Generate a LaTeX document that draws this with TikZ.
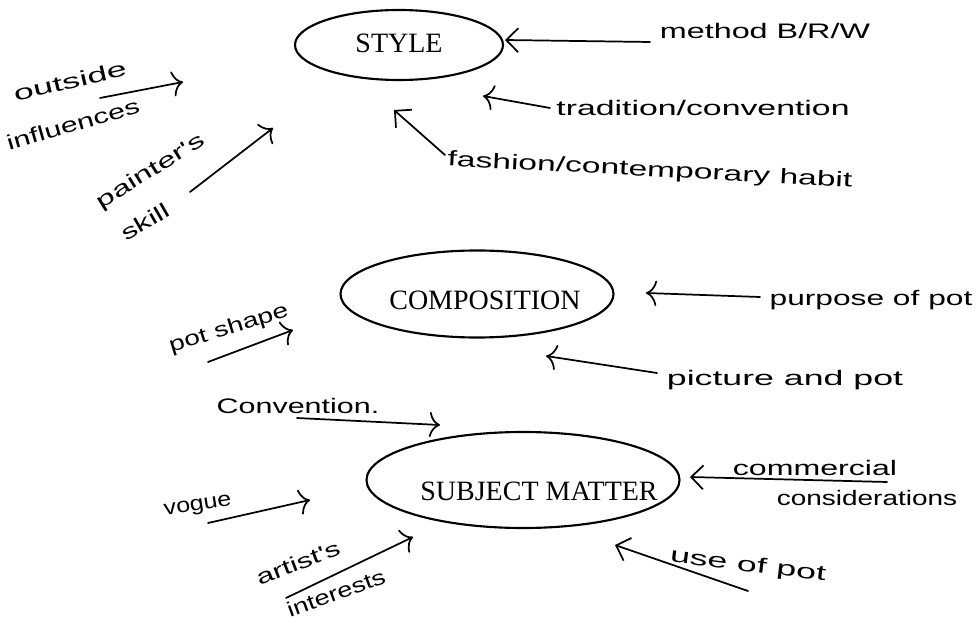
\documentclass[tikz,border=0pt]{standalone}
\usepackage{fontspec}
\usepackage{graphicx}
\setmainfont{Liberation Serif}
\newfontfamily\handfont{Liberation Sans}
\usetikzlibrary{arrows.meta,shapes.geometric}
\begin{document}
\begin{tikzpicture}[x=0.75pt,y=-0.75pt,
  bubble/.style={draw, ellipse, line width=1.6pt, inner sep=0pt},
  caption/.style={font=\fontsize{21}{24}\selectfont, inner sep=0pt},
  hand/.style={font=\handfont\fontsize{15.75}{18}\selectfont, inner sep=0pt},
  hook/.style={line width=1.3pt, line cap=round, -{To[length=8pt,width=19pt]}},
  barb/.style={line width=1.3pt, line cap=round, -{Straight Barb[length=9pt,width=18pt]}}]
\useasboundingbox (0,0) rectangle (978,620);

% main ellipses
\node[bubble, minimum width=156pt, minimum height=52.5pt] (style) at (399,45) {};
\node[caption] (styleT) at (399,43) {STYLE};
\node[bubble, minimum width=204.75pt, minimum height=65.25pt] (comp) at (477,294) {};
\node[caption] (compT) at (485,300) {COMPOSITION};
\node[bubble, minimum width=234.75pt, minimum height=72pt] (subj) at (523,480) {};
\node[caption] (subjT) at (539,491) {SUBJECT MATTER};

% handwritten labels
\node[hand] (method) at (765,31) {\scalebox{1.54}[1]{method B/R/W}};
\node[hand] (trad) at (703,108) {\scalebox{1.61}[1]{tradition/convention}};
\node[hand, rotate=-3] (fashion) at (650,171) {\scalebox{1.60}[1]{fashion/contemporary habit}};
\node[hand, rotate=13] (outside) at (70,81) {\scalebox{1.70}[1]{outside}};
\node[hand, rotate=16] (influences) at (73,124) {\scalebox{1.45}[1]{influences}};
\node[hand, rotate=32] (painters) at (151,172) {\scalebox{1.56}[1]{painter's}};
\node[hand, rotate=30] (skill) at (145,222) {\scalebox{1.49}[1]{skill}};
\node[hand, rotate=17] (potshape) at (229,329) {\scalebox{1.34}[1]{pot shape}};
\node[hand] (conv) at (298,406) {\scalebox{1.45}[1]{Convention.}};
\node[hand] (purpose) at (871,300) {\scalebox{1.51}[1]{purpose of pot}};
\node[hand] (picture) at (785,380) {\scalebox{1.70}[1]{picture and pot}};
\node[hand, rotate=9] (vogue) at (198,507) {\scalebox{1.19}[1]{vogue}};
\node[hand, rotate=21] (artists) at (298,563) {\scalebox{1.47}[1]{artist's}};
\node[hand, rotate=20] (interests) at (336,593) {\scalebox{1.30}[1]{interests}};
\node[hand] (commercial) at (815,468) {\scalebox{1.53}[1]{commercial}};
\node[hand] (consid) at (867,498) {\scalebox{1.33}[1]{considerations}};
\node[hand, rotate=-7] (useofpot) at (748,566) {\scalebox{1.70}[1]{use of pot}};

% arrow end points
\coordinate (mT) at (650,42);   \coordinate (mH) at (505,40);
\coordinate (tT) at (550,108);  \coordinate (tH) at (483,96);
\coordinate (fT) at (445,155);  \coordinate (fH) at (394,110);
\coordinate (oT) at (100,98);   \coordinate (oH) at (183,82);
\coordinate (pT) at (190,192);  \coordinate (pH) at (273,128);
\coordinate (sT) at (208,362);  \coordinate (sH) at (293,330);
\coordinate (puT) at (760,297); \coordinate (puH) at (646,293);
\coordinate (piT) at (657,373); \coordinate (piH) at (546,356);
\coordinate (cT) at (297,418);  \coordinate (cH) at (440,425);
\coordinate (vT) at (208,523);  \coordinate (vH) at (310,500);
\coordinate (aT) at (286,598);  \coordinate (aH) at (413,537);
\coordinate (coT) at (887,482); \coordinate (coH) at (690,477);
\coordinate (uT) at (748,591);  \coordinate (uH) at (615,545);

% arrows
\draw[barb] (mT) -- (mH);
\draw[hook] (tT) -- (tH);
\draw[barb] (fT) -- (fH);
\draw[hook] (oT) -- (oH);
\draw[hook] (pT) -- (pH);
\draw[hook] (sT) -- (sH);
\draw[hook] (puT) -- (puH);
\draw[hook] (piT) -- (piH);
\draw[hook] (cT) -- (cH);
\draw[hook] (vT) -- (vH);
\draw[hook] (aT) -- (aH);
\draw[barb] (coT) -- (coH);
\draw[barb] (uT) -- (uH);
\end{tikzpicture}
\end{document}
